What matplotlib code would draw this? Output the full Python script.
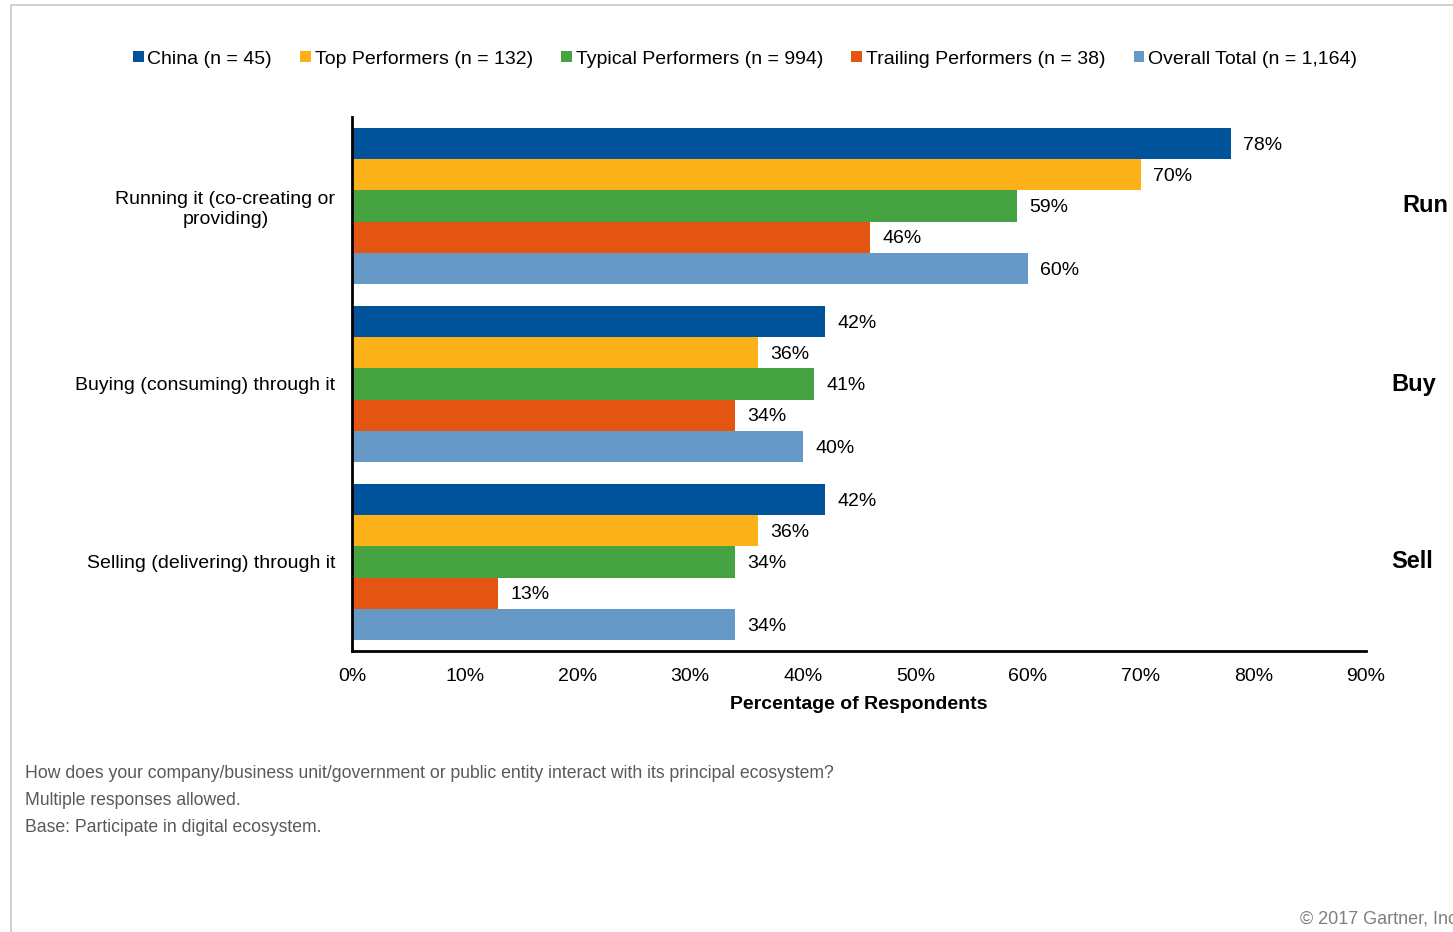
import numpy as np
import matplotlib.pyplot as plt
from matplotlib.patches import Rectangle

plt.rcParams['font.family'] = ['Liberation Sans', 'DejaVu Sans']

# Данные
categories = ['Running it (co-creating or\nproviding)',
              'Buying (consuming) through it',
              'Selling (delivering) through it']
side_labels = ['Run', 'Buy', 'Sell']
series = ['China (n = 45)', 'Top Performers (n = 132)',
          'Typical Performers (n = 994)', 'Trailing Performers (n = 38)',
          'Overall Total (n = 1,164)']
china = [78, 42, 42]
top = [70, 36, 36]
typical = [59, 41, 34]
trailing = [46, 34, 13]
overall = [60, 40, 34]
colors = ['#00529B', '#FDB119', '#45A341', '#E55512', '#6699C6']
footnotes = ['How does your company/business unit/government or public entity interact with its principal ecosystem?',
             'Multiple responses allowed.',
             'Base: Participate in digital ecosystem.']

W, H = 1453, 932
fig = plt.figure(figsize=(W / 100, H / 100), dpi=100)
# рамка слайда
fig.patches.append(Rectangle((11 / W, -0.1), 1, 1.1 - 5 / H, transform=fig.transFigure,
                             fill=False, edgecolor='#c8c8c8', linewidth=1.2))

ax = fig.add_axes([352 / W, 1 - 651 / H, (1366 - 352) / W, (651 - 117) / H])

values = [china, top, typical, trailing, overall]
y = np.arange(len(categories))
bh = 0.175
for i, (vals, col, name) in enumerate(zip(values, colors, series)):
    pos = y - 2 * bh + i * bh
    ax.barh(pos, vals, height=bh, color=col, label=name)
    for p, v in zip(pos, vals):
        ax.text(v + 1.1, p + 0.01, f'{v}%', va='center', ha='left', fontsize=14)

ax.set_xlim(0, 90)
ax.set_ylim(2.5, -0.5)
ax.set_xticks(np.arange(0, 91, 10))
ax.set_xticklabels([f'{t}%' for t in range(0, 91, 10)], fontsize=14)
ax.set_yticks(y)
ax.set_yticklabels(categories, fontsize=14, multialignment='center')
ax.tick_params(length=0, pad=12)
ax.tick_params(axis='x', pad=12)
for s in ['top', 'right']:
    ax.spines[s].set_visible(False)
for s in ['left', 'bottom']:
    ax.spines[s].set_linewidth(2)
ax.set_xlabel('Percentage of Respondents', fontsize=14, fontweight='bold', labelpad=8)

# подписи справа
for lab, yy, xx in zip(side_labels, y, [1425, 1414, 1412]):
    fig.text(xx / W, ax.transData.transform((0, yy))[1] / H, lab,
             fontsize=17, fontweight='bold', ha='center', va='center')

fig.legend(loc='center', bbox_to_anchor=(745 / W, 1 - 59 / H), ncol=5, frameon=False,
           fontsize=14, handlelength=0.55, handleheight=0.55, handletextpad=0.2,
           columnspacing=1.45)

for k, line in enumerate(footnotes):
    fig.text(25 / W, 1 - (773 + 27.5 * k) / H, line, fontsize=12.7, color='#595959',
             ha='left', va='center')
fig.text(1300 / W, 1 - 919 / H, '© 2017 Gartner, Inc.', fontsize=13, color='#7f7f7f',
         ha='left', va='center')

fig.savefig('out.png', dpi=100)
